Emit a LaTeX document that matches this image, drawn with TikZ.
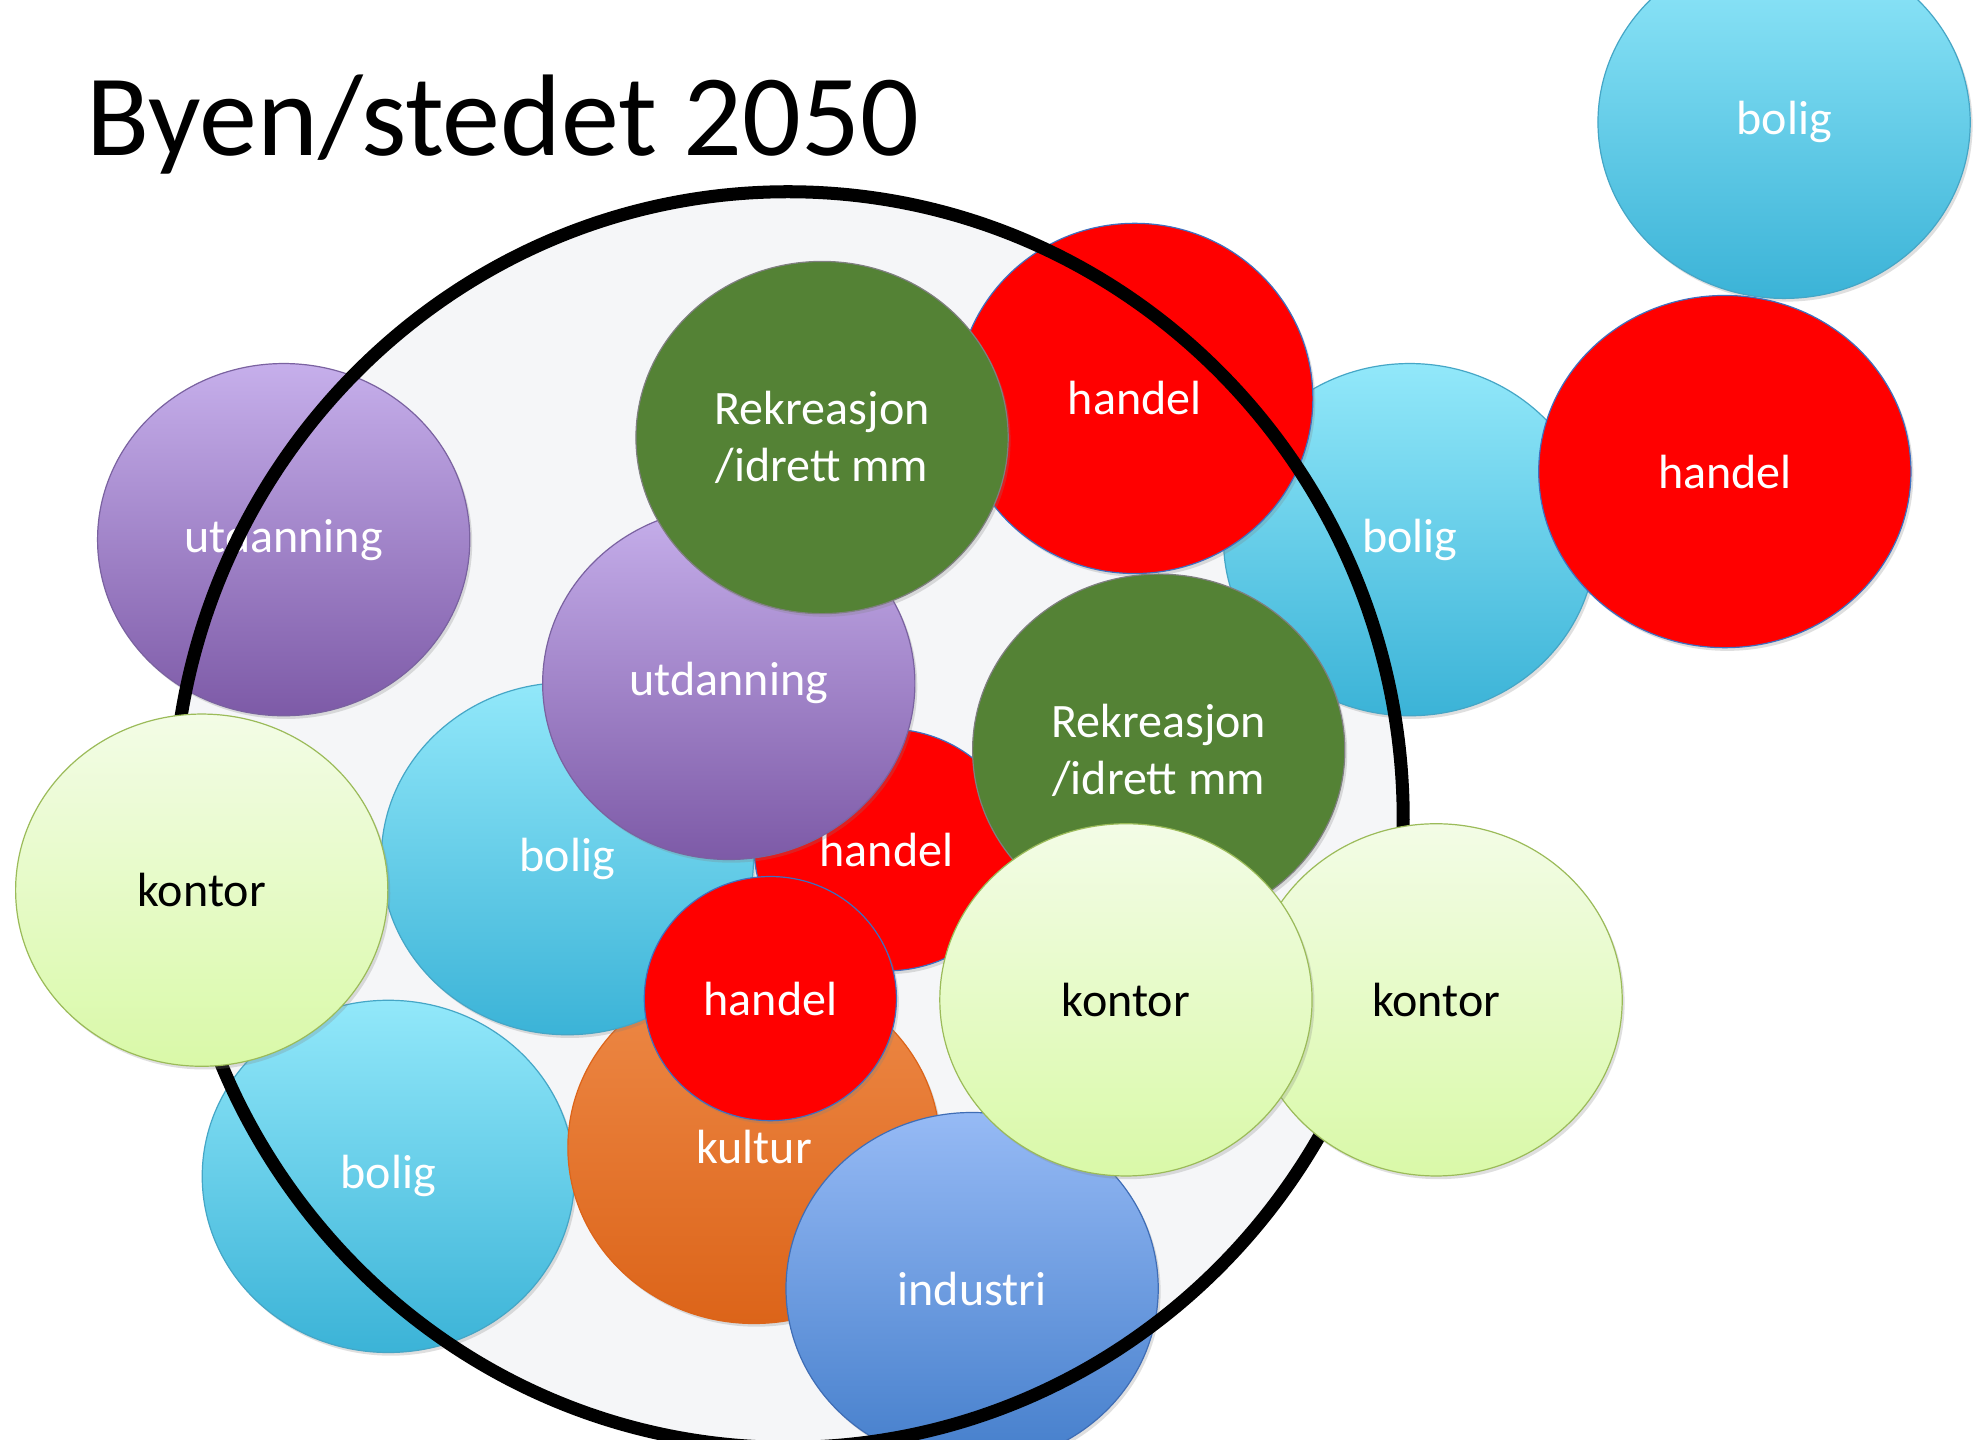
\documentclass[tikz,border=0pt]{standalone}
\usepackage{fontspec}
\setmainfont{Carlito}
\usetikzlibrary{shapes.geometric,shadows}

\definecolor{cityfill}{HTML}{F5F6F8}
\definecolor{boligtop}{HTML}{92E8FA}
\definecolor{boligbot}{HTML}{3BB3D7}
\definecolor{boligline}{HTML}{45A6C6}
\definecolor{utdtop}{HTML}{C6AFEB}
\definecolor{utdbot}{HTML}{7D5AA7}
\definecolor{utdline}{HTML}{7A62A0}
\definecolor{kontortop}{HTML}{F3FCE6}
\definecolor{kontorbot}{HTML}{D9F9A8}
\definecolor{kontorline}{HTML}{9BBB59}
\definecolor{indtop}{HTML}{96BAF5}
\definecolor{indbot}{HTML}{447ECB}
\definecolor{indline}{HTML}{3F6DB5}
\definecolor{kulturtop}{HTML}{EE8A48}
\definecolor{kulturbot}{HTML}{DC6419}
\definecolor{handelred}{HTML}{FF0000}
\definecolor{handelline}{HTML}{3F6FBF}
\definecolor{rekgreen}{HTML}{548235}
\definecolor{rekline}{HTML}{7F7F7F}

\tikzset{
  bubble/.style={ellipse, inner sep=0pt, minimum width=186pt, minimum height=176pt,
    line width=0.6pt, text=white, align=center, font=\fontsize{24}{28.5}\selectfont,
    drop shadow={opacity=0.25, shadow xshift=1.2pt, shadow yshift=-1.6pt}},
  boligball/.style={bubble, draw=boligline, top color=boligtop, bottom color=boligbot},
  utdball/.style={bubble, draw=utdline, top color=utdtop, bottom color=utdbot},
  kontorball/.style={bubble, draw=kontorline, top color=kontortop, bottom color=kontorbot, text=black},
  indball/.style={bubble, draw=indline, top color=indtop, bottom color=indbot},
  kulturball/.style={bubble, draw=kulturbot, top color=kulturtop, bottom color=kulturbot},
  handelball/.style={bubble, draw=handelline, fill=handelred},
  rekball/.style={bubble, draw=rekline, fill=rekgreen},
}

\begin{document}
\begin{tikzpicture}[x=0.63pt, y=-0.63pt]
		%%%%% START %%%%%
		\clip (0, 0) rectangle (1568, 1142);
		\fill[white] (0, 0) rectangle (1568, 1142);
		
		\node[anchor=base west, font=\fontsize{58}{60}\selectfont] (title) at (63, 123) {Byen/stedet 2050};
		
		% the town
		\coordinate (city) at (625, 650);
		\fill[cityfill] (city) ellipse [x radius=307.4pt, y radius=313.7pt];
		
		\node[boligball] (bolig1) at (1415, 97) {bolig};
		\node[boligball] (bolig2) at (1118, 428) {bolig};
		\node[handelball] (handel1) at (1368, 374) {handel};
		\node[handelball, minimum width=178pt, minimum height=175pt] (handel2) at (900, 316) {handel};
		\node[utdball] (utd1) at (225, 428) {utdanning};
		\node[boligball] (bolig4) at (308, 933) {bolig};
		\node[kulturball] (kultur) at (598, 910) {kultur};
		\node[boligball] (bolig3) at (450, 681) {bolig};
		\node[handelball, minimum width=132pt, minimum height=121pt] (handel3) at (703, 674) {handel};
		\node[utdball] (utd2) at (578, 542) {utdanning};
		\node[rekball] (rek1) at (652, 347) {Rekreasjon\\/idrett mm};
		\node[handelball, minimum width=126pt, minimum height=122pt] (handel4) at (611, 792) {handel};
		\node[indball] (industri) at (771, 1022) {industri};
		\node[rekball] (rek2) at (919, 595) {Rekreasjon\\/idrett mm};
		
		\draw[line width=6.5pt] (city) ellipse [x radius=307.4pt, y radius=313.7pt];
		
		\node[kontorball] (kontor3) at (1139, 793) {kontor};
		\node[kontorball] (kontor2) at (893, 793) {kontor};
		\node[kontorball] (kontor1) at (160, 706) {kontor};
		%%%%% END %%%%%
\end{tikzpicture}
\end{document}
